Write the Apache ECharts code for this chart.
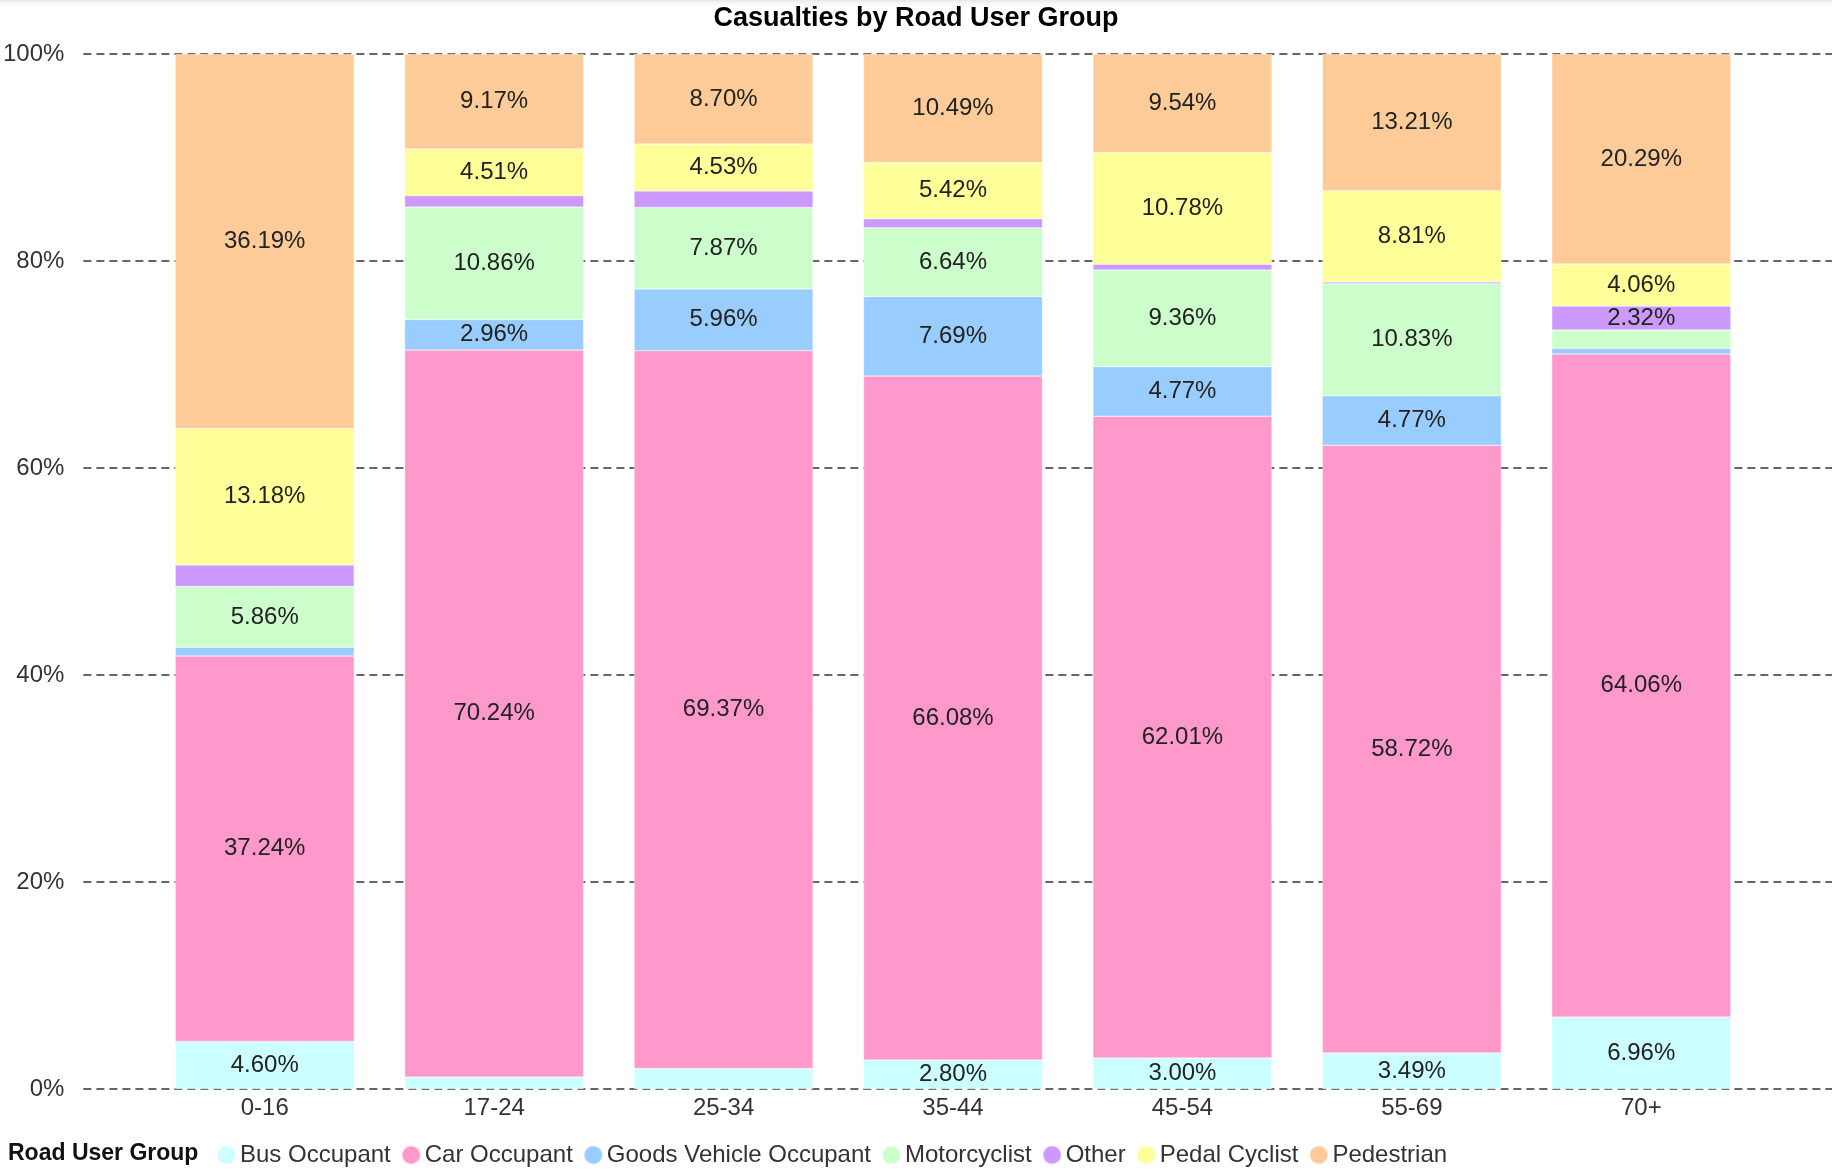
<!DOCTYPE html>
<html>
<head>
<meta charset="utf-8">
<script src="https://cdn.jsdelivr.net/npm/echarts@6/dist/echarts.min.js"></script>
<style>
  html, body { margin: 0; padding: 0; background: #fff; }
  #chart { width: 1832px; height: 1172px; }
</style>
</head>
<body>
<div id="chart"></div>
<script>
'use strict';

const ageGroups = ['0-16', '17-24', '25-34', '35-44', '45-54', '55-69', '70+'];
const yTicks = ['0%', '20%', '40%', '60%', '80%', '100%'];

const busOccupant = [4.60, 1.15, 1.97, 2.80, 3.00, 3.49, 6.96];
const carOccupant = [37.24, 70.24, 69.37, 66.08, 62.01, 58.72, 64.06];
const goodsVehicle = [0.84, 2.96, 5.96, 7.69, 4.77, 4.77, 0.55];
const motorcyclist = [5.86, 10.86, 7.87, 6.64, 9.36, 10.83, 1.76];
const other = [2.09, 1.11, 1.60, 0.88, 0.54, 0.17, 2.32];
const pedalCyclist = [13.18, 4.51, 4.53, 5.42, 10.78, 8.81, 4.06];
const pedestrian = [36.19, 9.17, 8.70, 10.49, 9.54, 13.21, 20.29];

const groups = [
  { name: 'Bus Occupant', data: busOccupant, color: '#ccffff' },
  { name: 'Car Occupant', data: carOccupant, color: '#ff99cc' },
  { name: 'Goods Vehicle Occupant', data: goodsVehicle, color: '#99ccff' },
  { name: 'Motorcyclist', data: motorcyclist, color: '#ccffcc' },
  { name: 'Other', data: other, color: '#cc99ff' },
  { name: 'Pedal Cyclist', data: pedalCyclist, color: '#ffff99' },
  { name: 'Pedestrian', data: pedestrian, color: '#ffcc99' }
];

const font = 'Arial, "Liberation Sans", sans-serif';
const fs = 24;

const myChart = echarts.init(document.getElementById('chart'));

const option = {
  animation: false,
  color: groups.map(g => g.color),
  textStyle: { fontFamily: font },
  graphic: [{
    type: 'rect',
    left: 0,
    top: 0,
    shape: { width: 1832, height: 8 },
    style: {
      fill: new echarts.graphic.LinearGradient(0, 0, 0, 1, [
        { offset: 0, color: '#e6e6e6' },
        { offset: 1, color: 'rgba(255,255,255,0)' }
      ])
    },
    silent: true
  }],
  title: [{
    text: 'Casualties by Road User Group',
    left: 'center',
    top: 0,
    textStyle: { fontSize: 27, fontWeight: 'bold', color: '#000', fontFamily: font }
  }, {
    text: 'Road User Group',
    left: 3,
    top: 1137,
    textStyle: { fontSize: 23, fontWeight: 'bold', color: '#111', fontFamily: font }
  }],
  legend: {
    left: 211,
    top: 1138,
    icon: 'circle',
    itemWidth: 19,
    itemHeight: 19,
    itemGap: 10,
    textStyle: { fontSize: fs, color: '#333', fontFamily: font, padding: [0, 0, 0, -1] },
    data: groups.map(g => g.name)
  },
  grid: [
    { left: 83, right: 0, top: 54, bottom: 83 },
    { left: 150, right: 76, top: 54, bottom: 83 }
  ],
  xAxis: [{
    gridIndex: 0,
    type: 'value',
    show: false
  }, {
    gridIndex: 1,
    type: 'category',
    data: ageGroups,
    axisLine: { show: false },
    axisTick: { show: false },
    axisLabel: { fontSize: fs, color: '#333', margin: 7, fontFamily: font }
  }],
  yAxis: [{
    gridIndex: 0,
    type: 'value',
    min: 0,
    max: 100,
    interval: 20,
    axisLine: { show: false },
    axisTick: { show: false },
    axisLabel: {
      fontSize: fs,
      color: '#333',
      margin: 19,
      fontFamily: font,
      formatter: v => yTicks[Math.round(v / 20)]
    },
    splitLine: { lineStyle: { type: [8, 5], color: '#666', width: 2 } }
  }, {
    gridIndex: 1,
    type: 'value',
    min: 0,
    max: 100,
    show: false,
    splitLine: { show: false }
  }],
  series: groups.map(g => ({
    name: g.name,
    type: 'bar',
    stack: 'total',
    xAxisIndex: 1,
    yAxisIndex: 1,
    barWidth: '78%',
    data: g.data,
    itemStyle: { color: g.color, borderColor: 'rgba(255,255,255,0.6)', borderWidth: 0.5 },
    label: {
      show: true,
      position: 'inside',
      fontSize: fs,
      color: '#222',
      fontFamily: font,
      formatter: p => (p.value >= 2.2 ? p.value.toFixed(2) + '%' : '')
    }
  }))
};

myChart.setOption(option);
</script>
</body>
</html>
